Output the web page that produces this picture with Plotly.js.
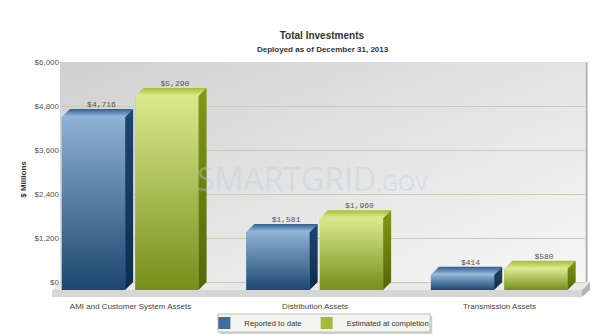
<!DOCTYPE html>
<html><head><meta charset="utf-8">
<script src="https://cdn.plot.ly/plotly-3.0.1.min.js"></script>
<style>html,body{margin:0;padding:0;background:#fff;}#chart{width:595px;height:335px;}</style>
</head><body><div id="chart"></div>
<script>
// ---- data ----
const categories = ['AMI and Customer System Assets', 'Distribution Assets', 'Transmission Assets'];
const reported = [4716, 1581, 414];
const estimated = [5290, 1960, 580];
const seriesNames = ['Reported to date', 'Estimated at completion'];
const yTickVals = [0, 1200, 2400, 3600, 4800, 6000];
const yTickText = ['$0', '$1,200', '$2,400', '$3,600', '$4,800', '$6,000'];

// ---- style / geometry ----
const DX = 0.0434;   // 3D depth along x (axis units)
const DY = 218;      // 3D depth along y (axis units)
const W = 0.343;
const OFFS = [-0.372, 0.026];
const styles = [
  {bar:'#3f6c99', frontLo:'#1c4670', frontHi:'#8fb2d5', topLo:'#9cbfe0', topHi:'#2f5f8f', sideLo:'#0f2c4b', sideHi:'#1f4670'},
  {bar:'#a3bb3a', frontLo:'#768e18', frontHi:'#dbe98f', topLo:'#e0ec98', topHi:'#a6bf32', sideLo:'#53660a', sideHi:'#7f9a14'}
];
const fmt = v => '$' + v.toLocaleString('en-US');

const series = [reported, estimated];
const traces = [];
series.forEach((vals, s) => {
  traces.push({
    type: 'bar', name: seriesNames[s], x: categories.map((c, i) => i), y: vals,
    base: vals.map(() => -DY), width: W, offset: OFFS[s],
    marker: {color: styles[s].bar, line: {width: 0}}, hoverinfo: 'skip'
  });
});
series.forEach((vals, s) => {
  const st = styles[s];
  vals.forEach((v, i) => {
    const x0 = i + OFFS[s], x1 = x0 + W;
    traces.push({type:'scatter', mode:'none', fill:'toself', showlegend:false, hoverinfo:'skip',
      x:[x0, x1, x1, x0, x0], y:[-DY, -DY, v - DY, v - DY, -DY],
      fillcolor: st.bar,
      fillgradient:{type:'vertical', colorscale:[[0, st.frontLo], [1, st.frontHi]]}});
    traces.push({type:'scatter', mode:'none', fill:'toself', showlegend:false, hoverinfo:'skip',
      x:[x0, x1, x1 + DX, x0 + DX, x0], y:[v - DY, v - DY, v, v, v - DY],
      fillcolor: st.topHi,
      fillgradient:{type:'vertical', colorscale:[[0, st.topLo], [1, st.topHi]]}});
    traces.push({type:'scatter', mode:'none', fill:'toself', showlegend:false, hoverinfo:'skip',
      x:[x1, x1 + DX, x1 + DX, x1, x1], y:[-DY, 0, v, v - DY, -DY],
      fillcolor: st.sideHi,
      fillgradient:{type:'vertical', colorscale:[[0, st.sideLo], [1, st.sideHi]]}});
  });
  traces.push({type:'scatter', mode:'text', showlegend:false, hoverinfo:'skip',
    x: vals.map((v, i) => i + OFFS[s] + W / 2 + DX), y: vals,
    text: vals.map(fmt), textposition:'top center',
    textfont:{family:'Liberation Mono, DejaVu Sans Mono, monospace', size:8, color:'#555'}});
});

const bgSvg = '<svg xmlns="http://www.w3.org/2000/svg" width="100" height="100" preserveAspectRatio="none">' +
  '<defs><linearGradient id="g" x1="0" y1="0" x2="1" y2="1">' +
  '<stop offset="0" stop-color="#d0d0d0"/><stop offset="1" stop-color="#f7f7f7"/></linearGradient></defs>' +
  '<rect width="100" height="100" fill="url(#g)"/></svg>';

const layout = {
  width: 595, height: 335,
  margin: {l: 60, r: 10, t: 62, b: 38, autoexpand: false},
  paper_bgcolor: '#ffffff', plot_bgcolor: 'rgba(0,0,0,0)',
  barmode: 'overlay',
  showlegend: true,
  font: {family: 'Liberation Sans, Arial, sans-serif', color: '#444'},
  title: {text: '<b>Total Investments</b>', x: 0.541, xanchor: 'center', y: 0.895, yanchor: 'middle',
    font: {family: 'Liberation Sans, Arial, sans-serif', size: 10, color: '#333'}},
  xaxis: {range: [-0.382, 2.463], tickvals: [0, 1, 2], ticktext: categories, showgrid: false,
    zeroline: false, showline: false, ticks: '', fixedrange: true, automargin: false, ticklabelstandoff: 3,
    tickfont: {family: 'Liberation Sans, Arial, sans-serif', size: 8, color: '#444'}},
  yaxis: {range: [-409, 6000], tickvals: yTickVals, ticktext: yTickText, showgrid: true, automargin: false,
    gridcolor: '#cacab8', gridwidth: 1, zeroline: false, showline: false, ticks: '',
    tickfont: {family: 'Liberation Sans, Arial, sans-serif', size: 8, color: '#555'},
    title: {text: '<b>$ Millions</b>', standoff: 6,
      font: {family: 'Liberation Sans, Arial, sans-serif', size: 8, color: '#333'}}},
  legend: {orientation: 'h', x: 0.494, xanchor: 'center', y: -0.1106, yanchor: 'middle',
    bgcolor: 'rgba(0,0,0,0)', borderwidth: 0,
    font: {family: 'Liberation Sans, Arial, sans-serif', size: 7.7, color: '#333'}, itemwidth: 30},
  images: [{source: 'data:image/svg+xml;charset=utf-8,' + encodeURIComponent(bgSvg),
    xref: 'paper', yref: 'y', x: 0, y: 6000, sizex: 1, sizey: 6000,
    xanchor: 'left', yanchor: 'top', sizing: 'stretch', layer: 'below'}],
  shapes: [
    {type: 'path', xref: 'paper', yref: 'y', layer: 'below', line: {width: 0},
      path: 'M 0,0 L 1.0095,0 L 0.9943,-218 L -0.0152,-218 Z', fillcolor: '#e9e9e9'},
    {type: 'path', xref: 'paper', yref: 'y', layer: 'below', line: {width: 0},
      path: 'M -0.0152,-218 L 0.9943,-218 L 0.9943,-409 L -0.0152,-409 Z', fillcolor: '#d6d6d6'},
    {type: 'path', xref: 'paper', yref: 'y', layer: 'below', line: {width: 0},
      path: 'M 0.9943,-218 L 1.0095,0 L 1.0095,-218 L 0.9943,-409 Z', fillcolor: '#b4b4b4'},
    {type: 'line', xref: 'paper', yref: 'y', layer: 'below', x0: 1.003, x1: 1.003, y0: 0, y1: 6000,
      line: {color: '#b0b0b0', width: 2}},
    {type: 'rect', xref: 'paper', yref: 'paper', layer: 'above', x0: 0.305, x1: 0.709, y0: -0.0808, y1: -0.1575,
      fillcolor: '#d2d2d2', line: {width: 0}},
    {type: 'rect', xref: 'paper', yref: 'paper', layer: 'above', x0: 0.301, x1: 0.705, y0: -0.0723, y1: -0.149,
      fillcolor: '#f4f4ee', line: {color: '#bdbdbd', width: 1}}
  ],
  annotations: [
    {text: '<b>Deployed as of December 31, 2013</b>', xref: 'paper', yref: 'paper', x: 0.501, y: 1.055,
      xanchor: 'center', yanchor: 'middle', showarrow: false,
      font: {family: 'Liberation Sans, Arial, sans-serif', size: 8, color: '#333'}},
    {text: 'SMARTGRID<span style="font-size:22px">.GOV</span>', xref: 'paper', yref: 'paper',
      x: 0.482, y: 0.506, xanchor: 'center', yanchor: 'middle', showarrow: false,
      font: {family: 'Open Sans, Liberation Sans, sans-serif', size: 32, color: 'rgba(185,205,222,0.4)'}}
  ]
};

Plotly.newPlot('chart', traces, layout, {displayModeBar: false, staticPlot: true});
</script></body></html>
